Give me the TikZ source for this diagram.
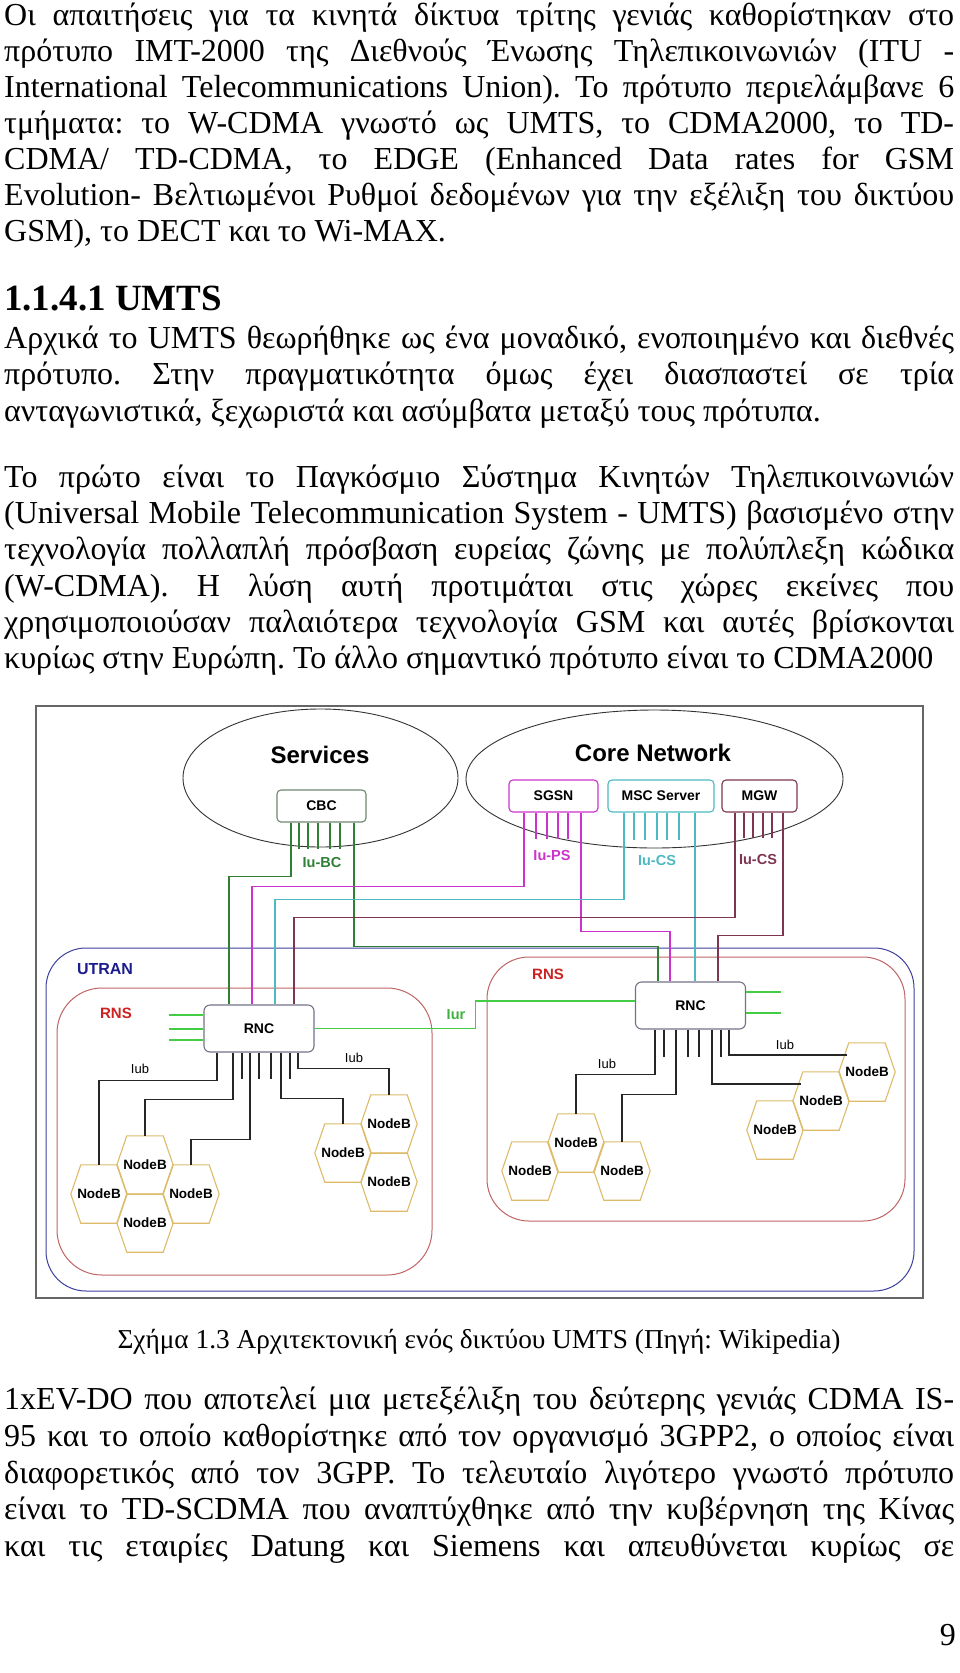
\documentclass[tikz,border=0pt]{standalone}
\usepackage{fontspec}
\setmainfont{Liberation Serif}
\newfontfamily\diagsans{Liberation Sans}
\usepackage{graphicx}
\usepackage{tikz}
\usetikzlibrary{shapes.geometric}
\frenchspacing
\definecolor{framegray}{HTML}{666666}
\definecolor{cbcgray}{HTML}{6F876F}
\definecolor{bcgreen}{HTML}{2F7F35}
\definecolor{psmag}{HTML}{CC33CC}
\definecolor{csteal}{HTML}{4DBAC2}
\definecolor{mgwmaroon}{HTML}{7E3552}
\definecolor{utranblue}{HTML}{4040A0}
\definecolor{utranlabel}{HTML}{1C1C8C}
\definecolor{rnsred}{HTML}{C06464}
\definecolor{rnslabel}{HTML}{CC2222}
\definecolor{iurgreen}{HTML}{44CC44}
\definecolor{iurlabel}{HTML}{3FB13F}
\definecolor{hexgold}{HTML}{DDBB6A}
\definecolor{rncgray}{HTML}{737388}
\newcommand{\bodysize}{\fontsize{32}{38}\selectfont}
\newcommand{\capsize}{\fontsize{27.3}{32}\selectfont}
\newcommand{\headsize}{\fontsize{37}{42}\selectfont}
\newsavebox{\linebox}
\newcommand{\jline}[1]{\sbox{\linebox}{#1}%
	\ifdim\wd\linebox>950pt\resizebox{950pt}{\ht\linebox}{\usebox{\linebox}}\else\makebox[950pt][s]{#1}\fi}
\newcommand{\nodeb}[3]{%
	\node[nodeb] at (#2,#3) (#1){NodeB};
	\draw[hexline] (#1.west) -- ([xshift=10pt]#1.north west) -- ([xshift=-10pt]#1.north east) -- (#1.east) -- ([xshift=-10pt]#1.south east) -- ([xshift=10pt]#1.south west) -- cycle;}

\begin{document}
\begin{tikzpicture}[x=1pt, y=-1pt,
	txt/.style={anchor=base west, inner sep=0pt, font=\bodysize},
	netcloud/.style={ellipse, draw=black!80, line width=0.9pt},
	cloudtitle/.style={font=\diagsans\bfseries\fontsize{24}{28}\selectfont},
	unitbox/.style={draw=#1, rounded corners=4pt, fill=white, line width=1.1pt, inner sep=0pt, font=\diagsans\bfseries\fontsize{14}{16}\selectfont},
	rnc/.style={unitbox=rncgray, minimum width=110pt, minimum height=47pt, rounded corners=6pt},
	wire/.style={draw=#1, line width=1.8pt},
	iflabel/.style={font=\diagsans\bfseries\fontsize{14.5}{16}\selectfont, text=#1},
	iub/.style={draw=black!85, line width=1.8pt},
	iublabel/.style={font=\diagsans\fontsize{13}{15}\selectfont},
	nodeb/.style={minimum width=56pt, minimum height=58pt, inner sep=0pt, font=\diagsans\bfseries\fontsize{13.5}{15}\selectfont},
	hexline/.style={draw=hexgold, line width=1.1pt},
	area/.style={draw=#1, line width=1pt, rounded corners=40pt},
	arealabel/.style={font=\diagsans\bfseries\fontsize{16}{18}\selectfont, text=#1}]
	\fill[white] (0,0) rectangle (960,1673);
	\useasboundingbox (0,0) rectangle (960,1673);
	%%%text above
	%paragraph 1
	\node[txt] at (4,25) (p1a){\jline{Οι απαιτήσεις για τα κινητά δίκτυα τρίτης γενιάς καθορίστηκαν στο}};
	\node[txt] at (4,61) (p1b){\jline{πρότυπο IMT-2000 της Διεθνούς Ένωσης Τηλεπικοινωνιών (ITU -}};
	\node[txt] at (4,97) (p1c){\jline{International Telecommunications Union). Το πρότυπο περιελάμβανε 6}};
	\node[txt] at (4,133) (p1d){\jline{τμήματα: το W-CDMA γνωστό ως UMTS, το CDMA2000, το TD-}};
	\node[txt] at (4,169.5) (p1e){\jline{CDMA/ TD-CDMA, το EDGE (Enhanced Data rates for GSM}};
	\node[txt] at (4,205.5) (p1f){\jline{Evolution- Βελτιωμένοι Ρυθμοί δεδομένων για την εξέλιξη του δικτύου}};
	\node[txt] at (4,241.5) (p1g){GSM), το DECT και το Wi-MAX.};
	%heading
	\node[txt, font=\headsize\bfseries] at (4,310) (head){1.1.4.1 UMTS};
	%paragraph 2
	\node[txt] at (4,348) (p2a){\jline{Αρχικά το UMTS θεωρήθηκε ως ένα μοναδικό, ενοποιημένο και διεθνές}};
	\node[txt] at (4,384.5) (p2b){\jline{πρότυπο. Στην πραγματικότητα όμως έχει διασπαστεί σε τρία}};
	\node[txt] at (4,421) (p2c){ανταγωνιστικά, ξεχωριστά και ασύμβατα μεταξύ τους πρότυπα.};
	%paragraph 3
	\node[txt] at (4,487) (p3a){\jline{Το πρώτο είναι το Παγκόσμιο Σύστημα Κινητών Τηλεπικοινωνιών}};
	\node[txt] at (4,523) (p3b){\jline{(Universal Mobile Telecommunication System - UMTS) βασισμένο στην}};
	\node[txt] at (4,559.5) (p3c){\jline{τεχνολογία πολλαπλή πρόσβαση ευρείας ζώνης με πολύπλεξη κώδικα}};
	\node[txt] at (4,596) (p3d){\jline{(W-CDMA). Η λύση αυτή προτιμάται στις χώρες εκείνες που}};
	\node[txt] at (4,632) (p3e){\jline{χρησιμοποιούσαν παλαιότερα τεχνολογία GSM και αυτές βρίσκονται}};
	\node[txt] at (4,668) (p3f){κυρίως στην Ευρώπη. Το άλλο σημαντικό πρότυπο είναι το CDMA2000};
	%%%diagram
	\draw[draw=framegray, line width=1.5pt] (36,706) rectangle (923,1298);
	%areas
	\draw[area=utranblue] (46,948) rectangle (914,1291);
	\node[arealabel=utranlabel] at (105,969) (utranLabel){UTRAN};
	\draw[area=rnsred, rounded corners=45pt] (57,988) rectangle (432,1275);
	\draw[area=rnsred, rounded corners=42pt] (487,957) rectangle (905,1221);
	\node[arealabel=rnslabel, font=\diagsans\bfseries\fontsize{15}{17}\selectfont] at (116,1013) (rnsLabelL){RNS};
	\node[arealabel=rnslabel, font=\diagsans\bfseries\fontsize{15}{17}\selectfont] at (548,974) (rnsLabelR){RNS};
	%clouds
	\node[netcloud, minimum width=275pt, minimum height=138pt] at (320.5,778) (services){};
	\node[cloudtitle] at (320,755) (servicesTitle){Services};
	\node[netcloud, minimum width=377pt, minimum height=138pt] at (654.5,779) (core){};
	\node[cloudtitle] at (653,753) (coreTitle){Core Network};
	%units
	\node[unitbox=cbcgray, minimum width=89pt, minimum height=32pt] at (321.5,806) (cbc){CBC};
	\node[unitbox=psmag, minimum width=89pt, minimum height=32pt] at (553.5,796) (sgsn){SGSN};
	\node[unitbox=csteal, minimum width=106pt, minimum height=32pt] at (661,796) (msc){MSC Server};
	\node[unitbox=mgwmaroon, minimum width=75pt, minimum height=32pt] at (759.5,796) (mgw){MGW};
	\node[rnc] at (259,1028.5) (rncL){RNC};
	\node[rnc] at (690.5,1005.5) (rncR){RNC};
	%cells left RNS
	\nodeb{nbLa}{99}{1194}
	\nodeb{nbLb}{145}{1165}
	\nodeb{nbLc}{191}{1194}
	\nodeb{nbLd}{145}{1223}
	\nodeb{nbLe}{343}{1153}
	\nodeb{nbLf}{389}{1124}
	\nodeb{nbLg}{389}{1182}
	%cells right RNS
	\nodeb{nbRa}{530}{1171}
	\nodeb{nbRb}{576}{1143}
	\nodeb{nbRc}{622}{1171}
	\nodeb{nbRd}{775}{1130}
	\nodeb{nbRe}{821}{1101}
	\nodeb{nbRf}{867}{1072}
	%%%links
	%Iu-BC
	\foreach \x in {299,308,318,330,340}
		\draw[wire=bcgreen] (cbc.south -| \x,0) -- ++(0,26);
	\draw[wire=bcgreen] (cbc.south -| 291,0) -- ++(0,54) -| (rncL.north -| 229,0);
	\draw[wire=bcgreen] (cbc.south -| 354,0) -- ++(0,124) -| (rncR.north -| 658,0);
	\node[iflabel=bcgreen] at (322,862) (iubc){Iu-BC};
	%Iu-PS
	\foreach \x in {536,547,558,568}
		\draw[wire=psmag] (sgsn.south -| \x,0) -- ++(0,26);
	\draw[wire=psmag] (sgsn.south -| 524,0) -- ++(0,74) -| (rncL.north -| 252,0);
	\draw[wire=psmag] (sgsn.south -| 581,0) -- ++(0,119) -| (rncR.north -| 670,0);
	\node[iflabel=psmag] at (552,855) (iups){Iu-PS};
	%Iu-CS msc
	\foreach \x in {634,645,657,667,679}
		\draw[wire=csteal] (msc.south -| \x,0) -- ++(0,27);
	\draw[wire=csteal] (msc.south -| 624,0) -- ++(0,87) -| (rncL.north -| 275,0);
	\draw[wire=csteal] (msc.south -| 695,0) -- (rncR.north -| 695,0);
	\node[iflabel=csteal] at (657,860) (iucsa){Iu-CS};
	%Iu-CS mgw
	\foreach \x in {744,753,763,772}
		\draw[wire=mgwmaroon] (mgw.south -| \x,0) -- ++(0,25);
	\draw[wire=mgwmaroon] (mgw.south -| 735,0) -- ++(0,105) -| (rncL.north -| 294,0);
	\draw[wire=mgwmaroon] (mgw.south -| 783,0) -- ++(0,123) -| (rncR.north -| 718,0);
	\node[iflabel=mgwmaroon] at (758,859) (iucsb){Iu-CS};
	%Iur
	\foreach \y in {1015,1029,1040}
		\draw[wire=iurgreen] (rncL.west |- 0,\y) -- ++(-34,0);
	\foreach \y in {992,1013}
		\draw[wire=iurgreen] (rncR.east |- 0,\y) -- ++(35,0);
	\draw[wire=iurgreen] (rncL.east) -- ++(161,0) |- (rncR.west |- 0,1001);
	\node[iflabel=iurlabel] at (456,1015) (iur){Iur};
	%Iub left
	\foreach \x in {242,259,271,290}
		\draw[iub] (rncL.south -| \x,0) -- ++(0,26);
	\draw[iub] (rncL.south -| 217,0) -- ++(0,28) -| (nbLa.north);
	\draw[iub] (rncL.south -| 233,0) -- ++(0,47) -| (nbLb.north);
	\draw[iub] (rncL.south -| 250,0) -- ++(0,87) -| (nbLc.north);
	\draw[iub] (rncL.south -| 281,0) -- ++(0,46) -| (nbLe.north);
	\draw[iub] (rncL.south -| 298,0) -- ++(0,16) -| (nbLf.north);
	\node[iublabel] at (140,1069) (iubLa){Iub};
	\node[iublabel] at (354,1058) (iubLb){Iub};
	%Iub right
	\foreach \x in {664,688,699,721}
		\draw[iub] (rncR.south -| \x,0) -- ++(0,27);
	\draw[iub] (rncR.south -| 655,0) -- ++(0,45) -| (nbRb.north);
	\draw[iub] (rncR.south -| 676,0) -- ++(0,65) -| (nbRc.north);
	\draw[iub] (rncR.south -| 712,0) |- ([xshift=8pt, yshift=17pt]nbRe.west);
	\draw[iub] (rncR.south -| 729,0) |- ([xshift=8pt, yshift=17pt]nbRf.west);
	\node[iublabel] at (607,1064) (iubRa){Iub};
	\node[iublabel] at (785,1045) (iubRb){Iub};
	%%%caption
	\node[anchor=base, inner sep=0pt, font=\capsize] at (479,1348) (caption){Σχήμα 1.3 Αρχιτεκτονική ενός δικτύου UMTS (Πηγή: Wikipedia)};
	%%%text below
	\node[txt] at (4,1409) (p4a){\jline{1xEV-DO που αποτελεί μια μετεξέλιξη του δεύτερης γενιάς CDMA IS-}};
	\node[txt] at (4,1446) (p4b){\jline{95 και το οποίο καθορίστηκε από τον οργανισμό 3GPP2, ο οποίος είναι}};
	\node[txt] at (4,1483) (p4c){\jline{διαφορετικός από τον 3GPP. Το τελευταίο λιγότερο γνωστό πρότυπο}};
	\node[txt] at (4,1519) (p4d){\jline{είναι το TD-SCDMA που αναπτύχθηκε από την κυβέρνηση της Κίνας}};
	\node[txt] at (4,1556) (p4e){\jline{και τις εταιρίες Datung και Siemens και απευθύνεται κυρίως σε}};
	\node[anchor=base east, inner sep=0pt, font=\bodysize] at (956,1645) (pagenum){9};
\end{tikzpicture}
\end{document}
